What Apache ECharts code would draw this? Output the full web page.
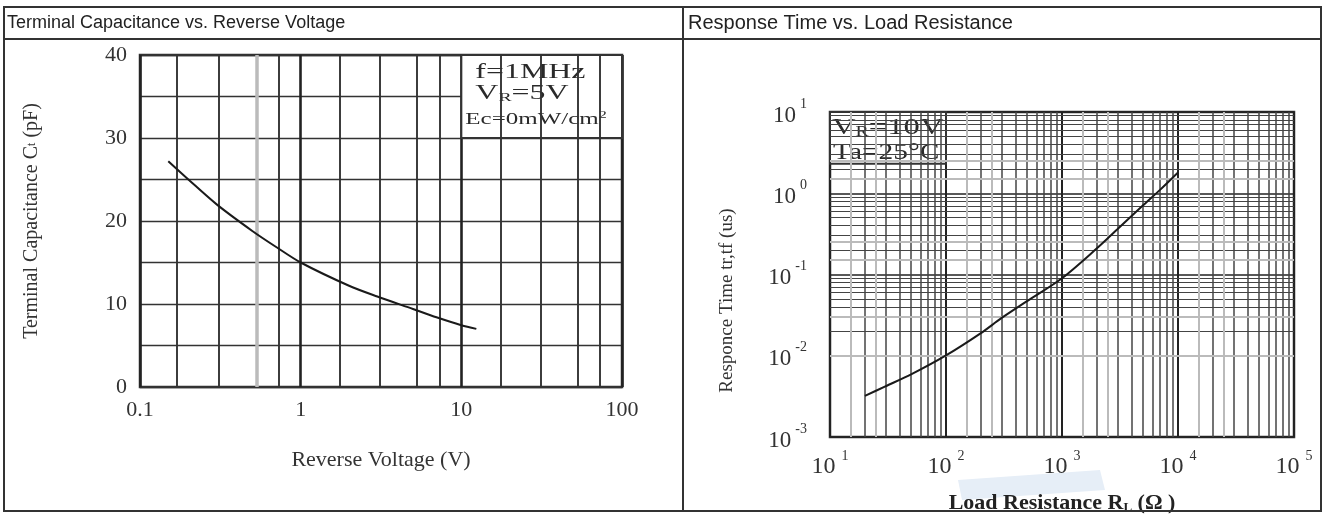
<!DOCTYPE html>
<html>
<head>
<meta charset="utf-8">
<script src="https://cdn.jsdelivr.net/npm/echarts@6/dist/echarts.min.js"></script>
<style>
html,body{margin:0;padding:0;background:#fff;}
#chart{width:1325px;height:517px;}
</style>
</head>
<body>
<div id="chart"></div>
<script>
// ---- Data: Terminal Capacitance vs Reverse Voltage ----
const capVoltage = [0.15, 0.2, 0.3, 0.5, 0.7, 1, 2, 3, 5, 7, 10, 12.4];
const capValue   = [27.2, 25.0, 22.0, 18.8, 16.9, 15.0, 12.2, 10.9, 9.4, 8.4, 7.45, 7.0];
const capXTicks  = [0.1, 1, 10, 100];
const capYTicks  = [0, 10, 20, 30, 40];
const capMinorX  = [0.175, 0.31, 0.73, 1.75, 3.1, 5.3, 7.3, 17.5, 31, 53, 73];
const capGrayX   = [0.53];
const capNoteBox = [10, 40, 100, 30];

// ---- Data: Response Time vs Load Resistance ----
const respR = [20, 30, 50, 100, 200, 300, 500, 1000, 2000, 3000, 5000, 7000, 10000];
const respT = [0.0032, 0.0042, 0.0059, 0.0101, 0.019, 0.029, 0.047, 0.09, 0.21, 0.36, 0.71, 1.1, 1.8];
const respXDecades = [10, 100, 1000, 10000];
const respYDecades = [0.001, 0.01, 0.1, 1];
const logMultipliers = [2, 3, 4, 5, 6, 7, 8, 9];
const logLightMultipliers = [1.5, 2.5];
const respNoteBox = [10, 10, 100, 2.3];

const SERIF = '"Liberation Serif","DejaVu Serif",serif';
const SANS = '"Liberation Sans",Arial,sans-serif';
const INK = '#222';

function minorList(decades, mults){
  const out = [];
  decades.forEach(d => mults.forEach(m => out.push(+(d*m).toPrecision(6))));
  return out;
}
const respMinorX = minorList(respXDecades, logMultipliers);
const respMinorY = minorList(respYDecades, logMultipliers);
const respLightX = minorList(respXDecades, logLightMultipliers);
const respLightY = minorList(respYDecades, logLightMultipliers);

const chart = echarts.init(document.getElementById('chart'));

const supLabel = v => '{b|10}{s|' + Math.round(Math.log10(v)) + '}';
const xSupRich = {
  b: {fontFamily: SERIF, fontSize: 24, color: '#333', lineHeight: 30, verticalAlign: 'bottom'},
  s: {fontFamily: SERIF, fontSize: 14, color: '#333', lineHeight: 30, verticalAlign: 'top', padding: [0,0,0,6]}
};
const ySupRich = {
  b: {fontFamily: SERIF, fontSize: 23, color: '#333', lineHeight: 30, verticalAlign: 'bottom'},
  s: {fontFamily: SERIF, fontSize: 14, color: '#333', lineHeight: 30, verticalAlign: 'top', padding: [0,0,0,4]}
};

// annotation box drawn through the axes' own scales; text lines stretched like the scanned original
function noteBox(lines){
  return (params, api) => {
    const p1 = api.coord([api.value(0), api.value(1)]);
    const p2 = api.coord([api.value(2), api.value(3)]);
    const children = [
      {type: 'rect', shape: {x: p1[0], y: p1[1], width: p2[0]-p1[0], height: p2[1]-p1[1]},
        style: {fill: '#fff', stroke: '#333', lineWidth: 2}}
    ];
    lines.forEach(l => children.push({
      type: 'text', x: p1[0] + l.dx, y: p1[1] + l.dy, scaleX: l.sx,
      style: {text: l.text, rich: l.rich, fontFamily: SERIF, fontSize: l.size, fill: '#2a2a2a', align: 'left', verticalAlign: 'top'}
    }));
    return {type: 'group', children};
  };
}
const subR = size => ({r: {fontFamily: SERIF, fontSize: size, fill: '#2a2a2a', verticalAlign: 'bottom'}});

chart.setOption({
  animation: false,
  backgroundColor: '#fff',
  graphic: [
    {type: 'rect', shape: {x: 4, y: 7, width: 1317, height: 504}, style: {fill: 'none', stroke: '#333', lineWidth: 2}, z: 100},
    {type: 'line', shape: {x1: 4, y1: 39, x2: 1321, y2: 39}, style: {stroke: '#333', lineWidth: 2}, z: 100},
    {type: 'line', shape: {x1: 683, y1: 7, x2: 683, y2: 511}, style: {stroke: '#333', lineWidth: 2}, z: 100},
    {type: 'text', left: 7, top: 14, style: {text: 'Terminal Capacitance vs. Reverse Voltage', font: '18px ' + SANS, fill: INK}, z: 100},
    {type: 'text', left: 688, top: 13, style: {text: 'Response Time vs. Load Resistance', font: '20px ' + SANS, fill: INK}, z: 100},
    {type: 'polygon', shape: {points: [[958,480],[1100,470],[1105,490],[962,500]]}, style: {fill: '#e6eef7'}, z: -1}
  ],
  grid: [
    {left: 140, top: 55, width: 482, height: 332, show: true, borderColor: '#333', borderWidth: 2.5,
      backgroundColor: '#fff', outerBoundsMode: 'none', containLabel: false},
    {left: 830, top: 112, width: 464, height: 325, show: true, borderColor: '#333', borderWidth: 2.5,
      backgroundColor: 'transparent', outerBoundsMode: 'none', containLabel: false}
  ],
  xAxis: [
    {
      gridIndex: 0, type: 'log', logBase: 10, min: 0.1, max: 100,
      axisLine: {show: false}, axisTick: {show: false},
      axisLabel: {fontFamily: SERIF, fontSize: 22, color: '#333', margin: 12,
        formatter: v => String(capXTicks.find(t => Math.abs(Math.log10(t) - Math.log10(v)) < 1e-6) ?? '')},
      splitLine: {show: true, lineStyle: {color: '#222', width: 2.6}},
      name: 'Reverse Voltage (V)', nameLocation: 'middle', nameGap: 62,
      nameTextStyle: {fontFamily: SERIF, fontSize: 22, color: '#333'}
    },
    {
      gridIndex: 1, type: 'log', logBase: 10, min: 10, max: 100000,
      axisLine: {show: false}, axisTick: {show: false},
      axisLabel: {formatter: supLabel, rich: xSupRich, margin: 12},
      splitLine: {show: true, lineStyle: {color: '#222', width: 2}},
      name: 'Load Resistance R{sub|L} (Ω )', nameLocation: 'middle', nameGap: 55,
      nameTextStyle: {fontFamily: SERIF, fontSize: 22, color: '#222', fontWeight: 'bold',
        rich: {sub: {fontFamily: SERIF, fontSize: 13, color: '#222', fontWeight: 'bold', verticalAlign: 'bottom', padding: [7,0,0,0]}}}
    }
  ],
  yAxis: [
    {
      gridIndex: 0, type: 'value', min: 0, max: 40, interval: 10,
      axisLine: {show: false}, axisTick: {show: false},
      axisLabel: {fontFamily: SERIF, fontSize: 22, color: '#333', margin: 13,
        formatter: v => capYTicks.includes(v) ? String(v) : ''},
      splitLine: {show: true, lineStyle: {color: '#333', width: 1.4}},
      minorTick: {show: false, splitNumber: 2},
      minorSplitLine: {show: true, lineStyle: {color: '#333', width: 1.4}},
      name: 'Terminal Capacitance C{sub|t} (pF)', nameLocation: 'middle', nameGap: 98, nameRotate: 90,
      nameTextStyle: {fontFamily: SERIF, fontSize: 20, color: '#333',
        rich: {sub: {fontFamily: SERIF, fontSize: 12, color: '#333'}}}
    },
    {
      gridIndex: 1, type: 'log', logBase: 10, min: 0.001, max: 10,
      axisLine: {show: false}, axisTick: {show: false},
      axisLabel: {formatter: supLabel, rich: ySupRich, margin: 23},
      splitLine: {show: true, lineStyle: {color: '#222', width: 1.6}},
      name: 'Responce Time tr,tf (us)', nameLocation: 'middle', nameGap: 93, nameRotate: 90,
      nameTextStyle: {fontFamily: SERIF, fontSize: 19, color: '#333', padding: [0, 52, 0, 0]}
    }
  ],
  series: [
    {
      type: 'line', xAxisIndex: 0, yAxisIndex: 0, data: [], silent: true, z: 1,
      markLine: {silent: true, symbol: 'none', label: {show: false}, animation: false,
        lineStyle: {color: '#333', width: 1.9, type: 'solid'},
        data: capMinorX.map(v => ({xAxis: v})).concat(capGrayX.map(v => ({xAxis: v, lineStyle: {color: '#bbb', width: 3.5, type: 'solid'}})))}
    },
    {
      type: 'custom', xAxisIndex: 0, yAxisIndex: 0, z: 3, silent: true, clip: false,
      data: [capNoteBox],
      renderItem: noteBox([
        {text: 'f=1MHz', size: 21, dx: 14, dy: 7, sx: 1.52},
        {text: 'V{r|R}=5V', size: 21, dx: 14, dy: 28, sx: 1.52, rich: subR(13)},
        {text: 'Ec=0mW/cm{s|2}', size: 17, dx: 4, dy: 55, sx: 1.47,
          rich: {s: {fontFamily: SERIF, fontSize: 11, fill: '#2a2a2a', verticalAlign: 'top', padding: [0,0,8,0]}}}
      ])
    },
    {
      type: 'line', xAxisIndex: 0, yAxisIndex: 0, z: 5,
      data: capVoltage.map((v, i) => [v, capValue[i]]),
      smooth: 0.3, showSymbol: false, symbol: 'none',
      lineStyle: {color: '#1a1a1a', width: 2}
    },
    {
      type: 'line', xAxisIndex: 1, yAxisIndex: 1, data: [], silent: true, z: 1,
      markLine: {silent: true, symbol: 'none', label: {show: false}, animation: false,
        lineStyle: {color: '#444', width: 1.2, type: 'solid'},
        data: respMinorX.map(v => ({xAxis: v, lineStyle: {color: '#444', width: 1.5, type: 'solid'}}))
          .concat(respMinorY.map(v => ({yAxis: v})))
          .concat(respLightX.map(v => ({xAxis: v, lineStyle: {color: '#bbb', width: 2, type: 'solid'}})))
          .concat(respLightY.map(v => ({yAxis: v, lineStyle: {color: '#bbb', width: 2, type: 'solid'}})))}
    },
    {
      type: 'custom', xAxisIndex: 1, yAxisIndex: 1, z: 3, silent: true, clip: false,
      data: [respNoteBox],
      renderItem: noteBox([
        {text: 'V{r|R}=10V', size: 23, dx: 2, dy: 4, sx: 1.42, rich: subR(14)},
        {text: 'Ta=25°C', size: 23, dx: 3, dy: 29, sx: 1.28}
      ])
    },
    {
      type: 'line', xAxisIndex: 1, yAxisIndex: 1, z: 5,
      data: respR.map((r, i) => [r, respT[i]]),
      smooth: 0.3, showSymbol: false, symbol: 'none',
      lineStyle: {color: '#1a1a1a', width: 2}
    }
  ]
});
</script>
</body>
</html>
